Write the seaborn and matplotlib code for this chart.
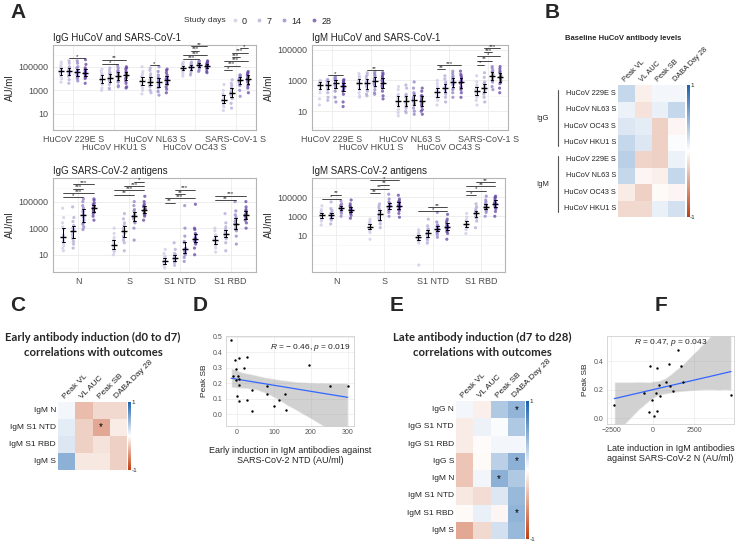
import numpy as np
import pandas as pd
import matplotlib
matplotlib.use("Agg")
import matplotlib.pyplot as plt
import matplotlib.transforms as mtransforms
from matplotlib.colors import LinearSegmentedColormap
from matplotlib.lines import Line2D
from matplotlib.ticker import FixedLocator, NullFormatter
import seaborn as sns

# --------------------------
# Data (antibody levels as log10 AU/ml, one list per study day: 0, 7, 14, 28)
# --------------------------
day_labels = ["0", "7", "14", "28"]

hucov_antigens = ["HuCoV 229E S", "HuCoV HKU1 S", "HuCoV NL63 S", "HuCoV OC43 S", "SARS-CoV-1 S"]
sars2_antigens = ["N", "S", "S1 NTD", "S1 RBD"]

# IgG HuCoV and SARS-CoV-1
igg_229e = [[4.6, 4.9, 4.3, 5.2, 4.7, 4.0, 4.5, 5.0, 4.8, 3.7, 4.4, 4.6, 5.4, 4.2],
            [4.6, 5.0, 4.2, 5.3, 4.8, 3.9, 4.5, 4.9, 4.7, 3.6, 4.4, 4.6, 5.5, 4.3],
            [4.5, 5.0, 4.2, 5.3, 4.7, 3.8, 4.4, 4.9, 4.6, 4.0, 4.3, 4.6, 5.5, 4.1],
            [4.5, 4.9, 4.1, 5.2, 4.6, 3.6, 4.4, 4.8, 4.7, 4.0, 4.3, 4.5, 5.6, 4.2]]
igg_hku1 = [[4.0, 4.4, 3.6, 4.8, 4.1, 3.2, 3.9, 4.3, 3.8, 3.0, 4.6, 4.0, 3.5, 4.2],
            [4.1, 4.5, 3.7, 4.9, 4.2, 3.2, 3.9, 4.4, 3.8, 3.1, 4.7, 4.0, 3.5, 4.3],
            [4.3, 4.7, 3.8, 5.1, 4.4, 3.4, 4.1, 4.6, 4.0, 3.3, 4.9, 4.2, 3.7, 4.5],
            [4.3, 4.8, 3.8, 5.0, 4.4, 3.3, 4.1, 4.6, 4.0, 3.2, 4.9, 4.3, 3.6, 4.5]]
igg_nl63 = [[3.8, 4.2, 3.4, 4.6, 3.9, 2.7, 3.6, 4.1, 3.5, 3.0, 4.4, 3.8, 5.0, 3.2],
            [3.8, 4.2, 3.4, 4.7, 3.9, 2.8, 3.6, 4.0, 3.5, 3.0, 4.4, 3.7, 4.9, 3.3],
            [3.7, 4.1, 3.3, 4.6, 3.9, 2.6, 3.5, 4.0, 3.4, 2.9, 4.3, 3.8, 5.0, 3.2],
            [3.9, 4.3, 3.5, 4.7, 4.0, 2.8, 3.7, 4.1, 3.6, 3.1, 4.5, 3.9, 4.8, 3.3]]
igg_oc43 = [[4.9, 5.1, 4.7, 5.3, 5.0, 4.2, 4.8, 5.2, 4.9, 4.4, 5.0, 4.6, 5.4, 4.9],
            [4.95, 5.15, 4.7, 5.35, 5.0, 4.3, 4.8, 5.2, 4.9, 4.4, 5.1, 4.6, 5.4, 5.0],
            [5.15, 5.3, 4.95, 5.45, 5.2, 4.6, 5.0, 5.35, 5.1, 4.7, 5.25, 4.9, 5.5, 5.15],
            [5.1, 5.3, 4.9, 5.45, 5.15, 4.5, 5.0, 5.3, 5.1, 4.6, 5.2, 4.8, 5.5, 5.1]]
igg_sars1 = [[2.2, 2.5, 1.9, 2.7, 2.3, 1.3, 2.0, 2.6, 2.1, 1.6, 3.0, 1.8, 3.5, 2.2],
             [2.8, 3.1, 2.4, 3.4, 2.9, 1.5, 2.6, 3.2, 2.7, 1.9, 3.6, 2.3, 3.9, 2.8],
             [3.9, 4.1, 3.5, 4.3, 4.0, 2.5, 3.7, 4.2, 3.8, 3.0, 4.3, 3.4, 4.1, 3.9],
             [3.9, 4.2, 3.5, 4.4, 4.0, 2.8, 3.7, 4.3, 3.8, 3.2, 4.6, 3.4, 4.5, 4.1]]

# IgM HuCoV and SARS-CoV-1
igm_229e = [[2.75, 2.9, 2.5, 3.0, 2.8, 1.8, 2.6, 2.95, 2.7, 2.2, 2.85, 2.4, 1.4, 2.9],
            [2.75, 2.95, 2.5, 3.05, 2.9, 1.9, 2.6, 3.0, 2.7, 2.2, 3.05, 2.4, 1.7, 2.8],
            [2.9, 3.05, 2.6, 3.2, 3.0, 1.9, 2.7, 3.1, 2.8, 2.3, 3.2, 2.5, 1.6, 3.0],
            [2.65, 2.85, 2.4, 3.0, 2.7, 1.6, 2.5, 2.9, 2.6, 2.1, 3.05, 2.3, 1.3, 2.8]]
igm_hku1 = [[2.85, 3.1, 2.5, 3.3, 2.9, 1.9, 2.7, 3.2, 2.8, 2.2, 3.45, 2.4, 2.0, 3.0],
            [2.85, 3.1, 2.6, 3.35, 2.9, 2.0, 2.7, 3.25, 2.8, 2.3, 3.5, 2.4, 2.1, 3.0],
            [3.0, 3.25, 2.7, 3.45, 3.1, 2.1, 2.8, 3.35, 2.9, 2.4, 3.55, 2.6, 2.2, 3.1],
            [2.9, 3.2, 2.6, 3.4, 3.0, 1.8, 2.7, 3.3, 2.8, 2.3, 3.5, 2.5, 2.0, 3.1]]
igm_nl63 = [[1.7, 2.0, 1.4, 2.4, 1.8, 0.7, 1.5, 2.1, 1.6, 1.1, 2.6, 1.3, 0.9, 1.9],
            [1.75, 2.0, 1.4, 2.5, 1.8, 0.9, 1.5, 2.1, 1.6, 1.2, 2.7, 1.3, 1.0, 1.9],
            [1.8, 2.1, 1.5, 2.5, 1.9, 0.8, 1.6, 2.2, 1.7, 1.2, 2.9, 1.4, 1.0, 2.0],
            [1.7, 2.0, 1.4, 2.3, 1.8, 0.8, 1.5, 2.0, 1.6, 1.1, 2.5, 1.3, 1.0, 1.9]]
igm_oc43 = [[2.2, 2.5, 1.9, 2.8, 2.3, 1.4, 2.0, 2.6, 2.1, 1.7, 3.0, 1.9, 2.4, 2.3],
            [2.5, 2.8, 2.2, 3.1, 2.6, 1.6, 2.3, 2.9, 2.4, 1.9, 3.3, 2.1, 2.7, 2.5],
            [2.9, 3.2, 2.5, 3.45, 3.0, 1.9, 2.7, 3.3, 2.8, 2.2, 3.6, 2.4, 3.1, 2.85],
            [2.85, 3.2, 2.5, 3.4, 3.0, 1.9, 2.6, 3.3, 2.8, 2.2, 3.6, 2.4, 3.1, 2.9]]
igm_sars1 = [[2.3, 2.6, 2.0, 2.9, 2.4, 1.4, 2.1, 2.7, 2.2, 1.7, 3.3, 1.9, 2.5, 2.35],
             [2.5, 2.8, 2.2, 3.2, 2.6, 1.6, 2.3, 2.9, 2.4, 1.9, 3.5, 2.1, 2.7, 2.5],
             [3.3, 3.55, 3.0, 3.8, 3.4, 2.4, 3.1, 3.65, 3.2, 2.6, 3.9, 2.9, 3.5, 3.3],
             [3.2, 3.5, 2.9, 3.75, 3.3, 2.2, 3.0, 3.6, 3.1, 2.5, 3.9, 2.8, 3.4, 3.2]]

# IgG SARS-CoV-2 antigens
igg_n = [[2.3, 2.9, 1.7, 3.4, 2.5, 1.3, 1.9, 3.1, 2.1, 1.5, 3.8, 2.0, 4.5, 2.4],
         [2.7, 3.2, 2.0, 3.8, 2.9, 1.5, 2.3, 3.5, 2.5, 1.8, 4.6, 2.2, 3.0, 2.8],
         [4.0, 4.5, 3.4, 5.0, 4.2, 2.9, 3.6, 4.7, 3.8, 3.1, 5.2, 3.3, 4.3, 4.0],
         [4.5, 4.8, 4.2, 5.1, 4.6, 3.6, 4.3, 4.9, 4.4, 3.9, 5.2, 4.1, 4.7, 4.5]]
igg_s = [[1.7, 2.1, 1.3, 2.6, 1.8, 1.0, 1.5, 2.3, 1.6, 1.2, 3.0, 1.4, 2.0, 1.8],
         [2.7, 3.2, 2.1, 3.7, 2.9, 1.3, 2.4, 3.4, 2.6, 1.9, 4.1, 2.3, 3.0, 2.8],
         [3.9, 4.3, 3.5, 4.7, 4.0, 2.1, 3.7, 4.4, 3.8, 3.0, 5.0, 3.4, 4.1, 3.9],
         [4.4, 4.7, 4.1, 5.0, 4.5, 3.6, 4.2, 4.8, 4.3, 3.9, 5.4, 4.0, 4.6, 4.4]]
igg_ntd = [[0.5, 0.8, 0.3, 1.1, 0.6, 0.0, 0.4, 0.9, 0.5, 0.2, 1.4, 0.3, 0.7, 0.45],
           [0.7, 1.0, 0.5, 1.4, 0.8, 0.2, 0.6, 1.1, 0.7, 0.4, 1.9, 0.5, 0.9, 0.75],
           [1.4, 1.9, 1.0, 2.4, 1.5, 0.5, 1.2, 2.0, 1.3, 0.8, 3.0, 1.1, 4.7, 1.4],
           [2.2, 2.5, 1.8, 2.9, 2.3, 1.0, 2.0, 2.6, 2.1, 1.5, 3.0, 1.9, 4.8, 2.2]]
igg_rbd = [[2.1, 2.4, 1.7, 2.8, 2.2, 1.2, 1.9, 2.5, 2.0, 1.5, 3.0, 1.8, 2.3, 2.05],
           [2.6, 2.9, 2.2, 3.4, 2.7, 1.3, 2.4, 3.1, 2.5, 1.9, 4.1, 2.3, 2.8, 2.55],
           [3.3, 3.8, 2.8, 4.3, 3.5, 1.8, 3.0, 4.0, 3.2, 2.4, 5.0, 2.9, 3.6, 3.3],
           [4.0, 4.3, 3.7, 4.6, 4.1, 3.0, 3.8, 4.4, 3.9, 3.4, 5.0, 3.6, 4.2, 4.0]]

# IgM SARS-CoV-2 antigens
igm_n = [[3.1, 3.4, 2.8, 3.7, 3.2, 2.1, 2.9, 3.5, 3.0, 2.5, 4.1, 2.7, 3.3, 3.1],
         [3.1, 3.4, 2.8, 3.8, 3.2, 2.2, 2.9, 3.6, 3.0, 2.6, 4.5, 2.7, 3.3, 3.15],
         [3.9, 4.1, 3.6, 4.3, 4.0, 3.0, 3.7, 4.2, 3.8, 3.3, 4.6, 3.5, 4.0, 3.9],
         [3.7, 4.0, 3.4, 4.3, 3.8, 2.8, 3.5, 4.1, 3.6, 3.1, 4.7, 3.3, 3.9, 3.7]]
igm_s = [[1.9, 2.2, 1.6, 2.5, 2.0, 0.6, 1.7, 2.3, 1.8, 1.3, 2.7, 1.5, 2.1, 1.9],
         [3.2, 3.7, 2.6, 4.1, 3.4, 1.8, 2.8, 3.9, 3.0, 2.2, 4.3, 2.5, 3.5, 3.2],
         [4.1, 4.4, 3.7, 4.8, 4.2, 3.0, 3.9, 4.5, 4.0, 3.4, 5.3, 3.6, 4.3, 4.05],
         [4.1, 4.5, 3.7, 4.8, 4.2, 2.9, 3.9, 4.6, 4.0, 3.3, 5.2, 3.6, 4.4, 4.1]]
igm_ntd = [[0.8, 1.1, 0.5, 1.4, 0.9, -2.1, 0.6, 1.2, 0.7, 0.2, 1.6, 0.4, 1.0, 0.8],
           [1.2, 1.6, 0.8, 2.0, 1.3, 0.2, 1.0, 1.7, 1.1, 0.5, 2.7, 0.7, 1.4, 1.2],
           [1.7, 2.0, 1.4, 2.4, 1.8, 0.8, 1.5, 2.1, 1.6, 1.1, 3.4, 1.3, 1.9, 1.7],
           [1.9, 2.3, 1.5, 2.7, 2.0, 0.6, 1.7, 2.5, 1.8, 1.2, 3.2, 1.4, 2.1, 1.9]]
igm_rbd = [[2.2, 2.5, 1.9, 2.9, 2.3, 1.2, 2.0, 2.6, 2.1, 1.6, 3.3, 1.8, 2.4, 2.2],
           [3.3, 3.6, 2.9, 4.0, 3.4, 1.8, 3.0, 3.8, 3.2, 2.5, 4.3, 2.8, 3.5, 3.3],
           [4.0, 4.3, 3.7, 4.7, 4.1, 3.0, 3.8, 4.5, 3.9, 3.4, 5.1, 3.6, 4.2, 4.0],
           [4.3, 4.7, 3.9, 5.0, 4.4, 3.0, 4.0, 4.9, 4.2, 3.5, 5.1, 3.8, 4.5, 4.3]]

# significance brackets: (antigen, day index from, day index to, label)
igg_hucov_sig = [("HuCoV 229E S", 1, 3, "*"),
                 ("HuCoV HKU1 S", 0, 2, "*"), ("HuCoV HKU1 S", 0, 3, "**"),
                 ("HuCoV NL63 S", 1, 2, "*"),
                 ("HuCoV OC43 S", 0, 2, "***"), ("HuCoV OC43 S", 0, 3, "***"),
                 ("HuCoV OC43 S", 1, 2, "***"), ("HuCoV OC43 S", 1, 3, "**"),
                 ("SARS-CoV-1 S", 0, 1, "*"), ("SARS-CoV-1 S", 0, 2, "***"),
                 ("SARS-CoV-1 S", 0, 3, "***"), ("SARS-CoV-1 S", 1, 2, "***"),
                 ("SARS-CoV-1 S", 1, 3, "***"), ("SARS-CoV-1 S", 2, 3, "*")]
igm_hucov_sig = [("HuCoV 229E S", 1, 3, "*"),
                 ("HuCoV HKU1 S", 1, 3, "**"),
                 ("HuCoV OC43 S", 0, 1, "**"), ("HuCoV OC43 S", 0, 3, "***"),
                 ("SARS-CoV-1 S", 0, 1, "*"), ("SARS-CoV-1 S", 0, 2, "**"),
                 ("SARS-CoV-1 S", 0, 3, "*"), ("SARS-CoV-1 S", 1, 2, "***"),
                 ("SARS-CoV-1 S", 1, 3, "***")]
igg_sars2_sig = [("N", 0, 2, "*"), ("N", 0, 3, "***"), ("N", 1, 2, "***"), ("N", 1, 3, "***"),
                 ("S", 0, 2, "**"), ("S", 0, 3, "***"), ("S", 1, 3, "***"), ("S", 2, 3, "*"),
                 ("S1 NTD", 0, 1, "**"), ("S1 NTD", 0, 3, "***"), ("S1 NTD", 1, 2, "**"),
                 ("S1 NTD", 1, 3, "***"),
                 ("S1 RBD", 0, 2, "**"), ("S1 RBD", 0, 3, "***")]
igm_sars2_sig = [("N", 0, 2, "*"), ("N", 1, 2, "**"),
                 ("S", 0, 1, "**"), ("S", 0, 2, "**"), ("S", 1, 2, "**"), ("S", 0, 3, "*"),
                 ("S1 NTD", 0, 3, "*"), ("S1 NTD", 1, 3, "**"),
                 ("S1 RBD", 0, 1, "*"), ("S1 RBD", 0, 2, "*"), ("S1 RBD", 0, 3, "**"),
                 ("S1 RBD", 1, 3, "**")]

# correlation heatmaps
outcomes = ["Peak VL", "VL AUC", "Peak SB", "DABA Day 28"]

b_rows = ["HuCoV 229E S", "HuCoV NL63 S", "HuCoV OC43 S", "HuCoV HKU1 S",
          "HuCoV 229E S", "HuCoV NL63 S", "HuCoV OC43 S", "HuCoV HKU1 S"]
b_peak_vl = [0.25, 0.08, 0.15, 0.25, 0.30, 0.25, -0.10, -0.20]
b_vl_auc = [-0.08, -0.15, 0.12, 0.15, -0.22, -0.05, -0.25, -0.20]
b_peak_sb = [0.05, 0.10, -0.25, -0.25, -0.25, -0.08, -0.03, 0.10]
b_daba = [0.05, 0.25, -0.05, 0.02, 0.08, 0.25, -0.05, 0.20]

c_rows = ["IgM N", "IgM S1 NTD", "IgM S1 RBD", "IgM S"]
c_peak_vl = [0.05, 0.12, 0.15, 0.50]
c_vl_auc = [-0.35, -0.25, -0.25, -0.12]
c_peak_sb = [-0.20, -0.45, -0.15, -0.12]
c_daba = [-0.20, -0.10, -0.25, -0.25]
c_sig = [("IgM S1 NTD", "Peak SB")]

e_rows = ["IgG N", "IgG S1 NTD", "IgG S1 RBD", "IgG S",
          "IgM N", "IgM S1 NTD", "IgM S1 RBD", "IgM S"]
e_peak_vl = [0.05, -0.10, -0.10, -0.30, -0.30, -0.12, -0.03, -0.45]
e_vl_auc = [-0.08, 0.08, -0.02, -0.03, 0.06, -0.18, 0.10, -0.20]
e_peak_sb = [0.35, 0.03, 0.05, 0.30, 0.50, 0.15, -0.05, 0.20]
e_daba = [0.48, 0.35, 0.05, 0.50, 0.35, 0.45, 0.48, 0.45]
e_sig = [("IgG N", "DABA Day 28"), ("IgG S", "DABA Day 28"),
         ("IgM N", "Peak SB"), ("IgM S1 RBD", "DABA Day 28")]

# scatter panels
d_x = [-16, -5, 4.5, 28, -2, 18, -10, 2, 6, -3, 4, 41, 81, 196, 251, 300,
       0, 26, 6, 80, 130, 114, 101, 40, 132]
d_y = [0.48, 0.35, 0.36, 0.37, 0.29, 0.30, 0.25, 0.25, 0.23, 0.22, 0.19, 0.16, 0.18,
       0.32, 0.18, 0.18, 0.12, 0.095, 0.086, 0.13, 0.13, 0.095, 0.052, 0.02, 0.03]
f_x = [-2330, -540, -80, -200, 220, -220, 40, 260, 180, 380, 420, 780, 980,
       1020, 1220, 1530, 1670, 1830, 4700]
f_y = [0.093, 0.18, 0.128, 0.366, 0.354, 0.042, 0.018, 0.053, 0.18, 0.233, 0.158,
       0.256, 0.377, 0.226, 0.193, 0.48, 0.366, 0.256, 0.16]

# --------------------------
# Style
# --------------------------
sns.set_theme(style="white")
plt.rcParams["font.family"] = ["Liberation Sans", "DejaVu Sans"]
plt.rcParams["mathtext.fontset"] = "custom"
plt.rcParams["mathtext.it"] = "Liberation Sans:italic"
plt.rcParams["mathtext.rm"] = "Liberation Sans"
np.random.seed(3)

day_colors = ["#CFC9E6", "#B3A8D8", "#9180C6", "#6546A3"]
corr_cmap = LinearSegmentedColormap.from_list("corr", ["#BF3F0F", "#FFFFFF", "#1D63AE"])
tick_grey = "#4D4D4D"

W, H = 740, 544
fig = plt.figure(figsize=(7.4, 5.44), dpi=100)
fig.patch.set_facecolor("white")


def box(l, t, r, b):
    return [l / W, 1 - b / H, (r - l) / W, (b - t) / H]


def long_frame(antigens, groups):
    rows = []
    for name, days in zip(antigens, groups):
        for day, vals in zip(day_labels, days):
            for v in vals:
                rows.append((name, day, 10 ** v))
    return pd.DataFrame(rows, columns=["antigen", "day", "au"])


def strip_panel(rect, antigens, groups, title, brackets, step, ylim, stagger=False):
    ax = fig.add_axes(box(*rect))
    ax.set_yscale("log")
    df = long_frame(antigens, groups)
    sns.stripplot(data=df, x="antigen", y="au", hue="day", order=antigens,
                  hue_order=day_labels, palette=day_colors, dodge=True, jitter=0.06,
                  size=2.3, alpha=0.75, linewidth=0, ax=ax, legend=False, zorder=2)
    sns.pointplot(data=df, x="antigen", y="au", hue="day", order=antigens,
                  hue_order=day_labels, palette=["black"] * 4, dodge=0.6,
                  estimator="median", errorbar=("pi", 50), markers="_",
                  markersize=5, markeredgewidth=1.0, linestyle="none",
                  err_kws={"linewidth": 0.7}, capsize=0.06, ax=ax, legend=False)
    # significance brackets stacked above each antigen
    offsets = [-0.3, -0.1, 0.1, 0.3]
    level = {}
    for name, i, j, lab in brackets:
        k = antigens.index(name)
        top = max(max(d) for d in groups[k])
        y = level.get(name, top + 0.12)
        level[name] = y + step
        ax.plot([k + offsets[i], k + offsets[j]], [10 ** y, 10 ** y], color="black",
                lw=0.5, zorder=3)
        ax.text(k + (offsets[i] + offsets[j]) / 2, 10 ** (y - step * 0.15), lab,
                ha="center", va="bottom", fontsize=4.5)
    ax.set_ylim(*ylim)
    ax.set_xlim(-0.5, len(antigens) - 0.5)
    ax.set_yticks([10, 1000, 100000])
    ax.set_yticklabels(["10", "1000", "100000"])
    ax.yaxis.set_minor_locator(FixedLocator([1e-2, 1, 100, 1e4, 1e6]))
    ax.yaxis.set_minor_formatter(NullFormatter())
    if stagger:
        ax.set_xticks(range(0, len(antigens), 2))
        ax.set_xticklabels(antigens[0::2])
        ax.set_xticks(range(1, len(antigens), 2), minor=True)
        ax.set_xticklabels(antigens[1::2], minor=True)
        ax.tick_params(axis="x", which="minor", length=2, width=0.5, color=tick_grey,
                       pad=7.5, labelsize=6.5, labelcolor=tick_grey)
        ax.grid(True, which="minor", axis="x", color="#EBEBEB", lw=0.6)
    else:
        ax.set_xticks(range(len(antigens)))
        ax.set_xticklabels(antigens)
    ax.tick_params(axis="x", which="major", labelsize=6.5, labelcolor=tick_grey)
    ax.grid(True, which="major", color="#EBEBEB", lw=0.6)
    ax.grid(True, which="minor", axis="y", color="#F3F3F3", lw=0.4)
    ax.set_axisbelow(True)
    ax.tick_params(axis="y", labelsize=6.5, labelcolor=tick_grey)
    ax.tick_params(which="major", length=2, width=0.5, color=tick_grey, pad=1.5)
    ax.tick_params(axis="y", which="minor", length=0)
    ax.set_xlabel("")
    ax.set_ylabel("AU/ml", fontsize=7, labelpad=2)
    ax.set_title(title, loc="left", fontsize=7, pad=3, color="#222222")
    for sp in ax.spines.values():
        sp.set_color("#B5B5B5")
        sp.set_linewidth(0.8)
    return ax


def heat_panel(rect, cbar_rect, rows, cols, sig, label_size):
    ax = fig.add_axes(box(*rect))
    cax = fig.add_axes(box(*cbar_rect))
    vals = np.array(cols).T
    stars = np.full(vals.shape, "", dtype=object)
    for r, c in sig:
        stars[rows.index(r), outcomes.index(c)] = "*"
    sns.heatmap(vals, cmap=corr_cmap, vmin=-1, vmax=1, ax=ax, cbar_ax=cax,
                annot=stars, fmt="", annot_kws={"fontsize": 7, "color": "black"},
                linewidths=0, xticklabels=outcomes, yticklabels=rows)
    ax.xaxis.tick_top()
    ax.set_xticklabels(outcomes, rotation=45, ha="left", rotation_mode="anchor",
                       fontsize=label_size, color="#222222")
    ax.set_yticklabels(rows, rotation=0, fontsize=label_size, color="#222222")
    ax.tick_params(length=0, pad=1.5)
    cbar = ax.collections[0].colorbar
    cbar.outline.set_visible(False)
    cbar.set_ticks([-1, 1])
    cax.set_yticklabels(["-1", "1"], fontsize=4.5)
    cax.tick_params(length=0, pad=0.5)
    return ax


def scatter_panel(rect, xs, ys, xlim, ylim, xticks, yticks, yfmt, xlabel, note, note_xy, note_ha):
    ax = fig.add_axes(box(*rect))
    sns.regplot(x=np.array(xs, float), y=np.array(ys, float), scatter=False, ci=95,
                color="#3366FF", line_kws={"linewidth": 0.9}, ax=ax, seed=1)
    band = ax.collections[-1]
    band.set_facecolor("#999999")
    band.set_alpha(0.45)
    sns.scatterplot(x=xs, y=ys, color="black", s=3, linewidth=0, ax=ax, zorder=4)
    ax.set_xlim(*xlim)
    ax.set_ylim(*ylim)
    ax.set_xticks(xticks)
    ax.set_yticks(yticks)
    ax.set_yticklabels([yfmt.format(t) for t in yticks])
    ax.grid(True, color="#EBEBEB", lw=0.5)
    ax.set_axisbelow(True)
    ax.tick_params(labelsize=5, labelcolor="#555555", length=1.5, width=0.4,
                   color="#888888", pad=1)
    ax.set_ylabel("Peak SB", fontsize=6, labelpad=3)
    ax.set_xlabel(xlabel, fontsize=6.5, labelpad=7, linespacing=1.1, color="#222222")
    ax.text(note_xy[0], note_xy[1], note, transform=ax.transAxes, ha=note_ha,
            va="top", fontsize=6, color="#222222")
    for sp in ax.spines.values():
        sp.set_color("#D0D0D0")
        sp.set_linewidth(0.6)
    return ax


# --------------------------
# Panel A
# --------------------------
ax_a1 = strip_panel((53, 45, 256, 130), hucov_antigens,
                    [igg_229e, igg_hku1, igg_nl63, igg_oc43, igg_sars1],
                    "IgG HuCoV and SARS-CoV-1", igg_hucov_sig, 0.37, (0.44, 7e6), stagger=True)
ax_a2 = strip_panel((312, 45, 508, 130), hucov_antigens,
                    [igm_229e, igm_hku1, igm_nl63, igm_oc43, igm_sars1],
                    "IgM HuCoV and SARS-CoV-1", igm_hucov_sig, 0.27, (0.6, 2e5), stagger=True)
ax_a3 = strip_panel((53, 178, 256, 272), sars2_antigens,
                    [igg_n, igg_s, igg_ntd, igg_rbd],
                    "IgG SARS-CoV-2 antigens", igg_sars2_sig, 0.33, (0.5, 6e6))
ax_a4 = strip_panel((312, 178, 505, 272), sars2_antigens,
                    [igm_n, igm_s, igm_ntd, igm_rbd],
                    "IgM SARS-CoV-2 antigens", igm_sars2_sig, 0.45, (1.5e-3, 1e7))

fig.text(184 / W, 1 - 21 / H, "Study days", fontsize=6, va="center", color="#333333")
handles = [Line2D([], [], marker="o", linestyle="none", markersize=2.8,
                  markerfacecolor=c, markeredgewidth=0, alpha=0.75) for c in day_colors]
fig.legend(handles, day_labels, loc="center left", bbox_to_anchor=(230 / W, 1 - 21 / H),
           ncol=4, frameon=False, fontsize=6.5, handletextpad=0.3, columnspacing=0.9,
           handlelength=1.0, borderaxespad=0, borderpad=0)

# --------------------------
# Panel B
# --------------------------
ax_b = heat_panel((618, 85, 685, 217), (686.5, 85, 689.5, 217), b_rows,
                  [b_peak_vl, b_vl_auc, b_peak_sb, b_daba], [], 5.3)
fig.text(623 / W, 1 - 38 / H, "Baseline HuCoV antibody levels", fontsize=5.5,
         fontweight="bold", ha="center", va="center")
trans = mtransforms.blended_transform_factory(ax_b.transAxes, ax_b.transData)
for lab, lo, hi in [("IgG", 0.3, 3.7), ("IgM", 4.3, 7.7)]:
    ax_b.plot([-0.9, -0.9], [lo, hi], transform=trans, color="#555555", lw=0.8, clip_on=False)
    ax_b.text(-1.12, (lo + hi) / 2, lab, transform=trans, ha="center", va="center", fontsize=5.5)

# --------------------------
# Panels C and E
# --------------------------
heat_panel((58, 402, 127, 470), (128, 402, 131, 470), c_rows,
           [c_peak_vl, c_vl_auc, c_peak_sb, c_daba], c_sig, 6)
fig.text(93 / W, 1 - 345 / H, "Early antibody induction (d0 to d7)\ncorrelations with outcomes",
         fontsize=8.2, fontweight="bold", ha="center", va="center", linespacing=1.35,
         family=["Lato", "DejaVu Sans"])

heat_panel((456, 401, 525, 539), (526, 401, 529, 539), e_rows,
           [e_peak_vl, e_vl_auc, e_peak_sb, e_daba], e_sig, 6)
fig.text(482 / W, 1 - 345 / H, "Late antibody induction (d7 to d28)\ncorrelations with outcomes",
         fontsize=8.2, fontweight="bold", ha="center", va="center", linespacing=1.35,
         family=["Lato", "DejaVu Sans"])

# --------------------------
# Panels D and F
# --------------------------
scatter_panel((226, 336, 354, 426), d_x, d_y, (-30, 317), (-0.075, 0.505),
              [0, 100, 200, 300], [0.0, 0.1, 0.2, 0.3, 0.4, 0.5], "{:.1f}",
              "Early induction in IgM antibodies against\nSARS-CoV-2 NTD (AU/ml)",
              r"$\it{R}$ = − 0.46, $\it{p}$ = 0.019", (0.97, 0.93), "right")
scatter_panel((607, 336, 734, 424), f_x, f_y, (-2770, 4880), (-0.04, 0.575),
              [-2500, 0, 2500], [0.0, 0.2, 0.4], "{:.1f}",
              "Late induction in IgM antibodies\nagainst SARS-CoV-2 N (AU/ml)",
              r"$\it{R}$ = 0.47, $\it{p}$ = 0.043", (0.5, 0.985), "center")

# panel letters
for letter, x, y in [("A", 10, 3), ("B", 545, 3), ("C", 10, 296), ("D", 193, 296),
                     ("E", 390, 296), ("F", 655, 296)]:
    fig.text(x / W, 1 - y / H, letter, fontsize=15, fontweight="bold", va="top", ha="left")

fig.savefig("out.png", dpi=100, facecolor="white")
